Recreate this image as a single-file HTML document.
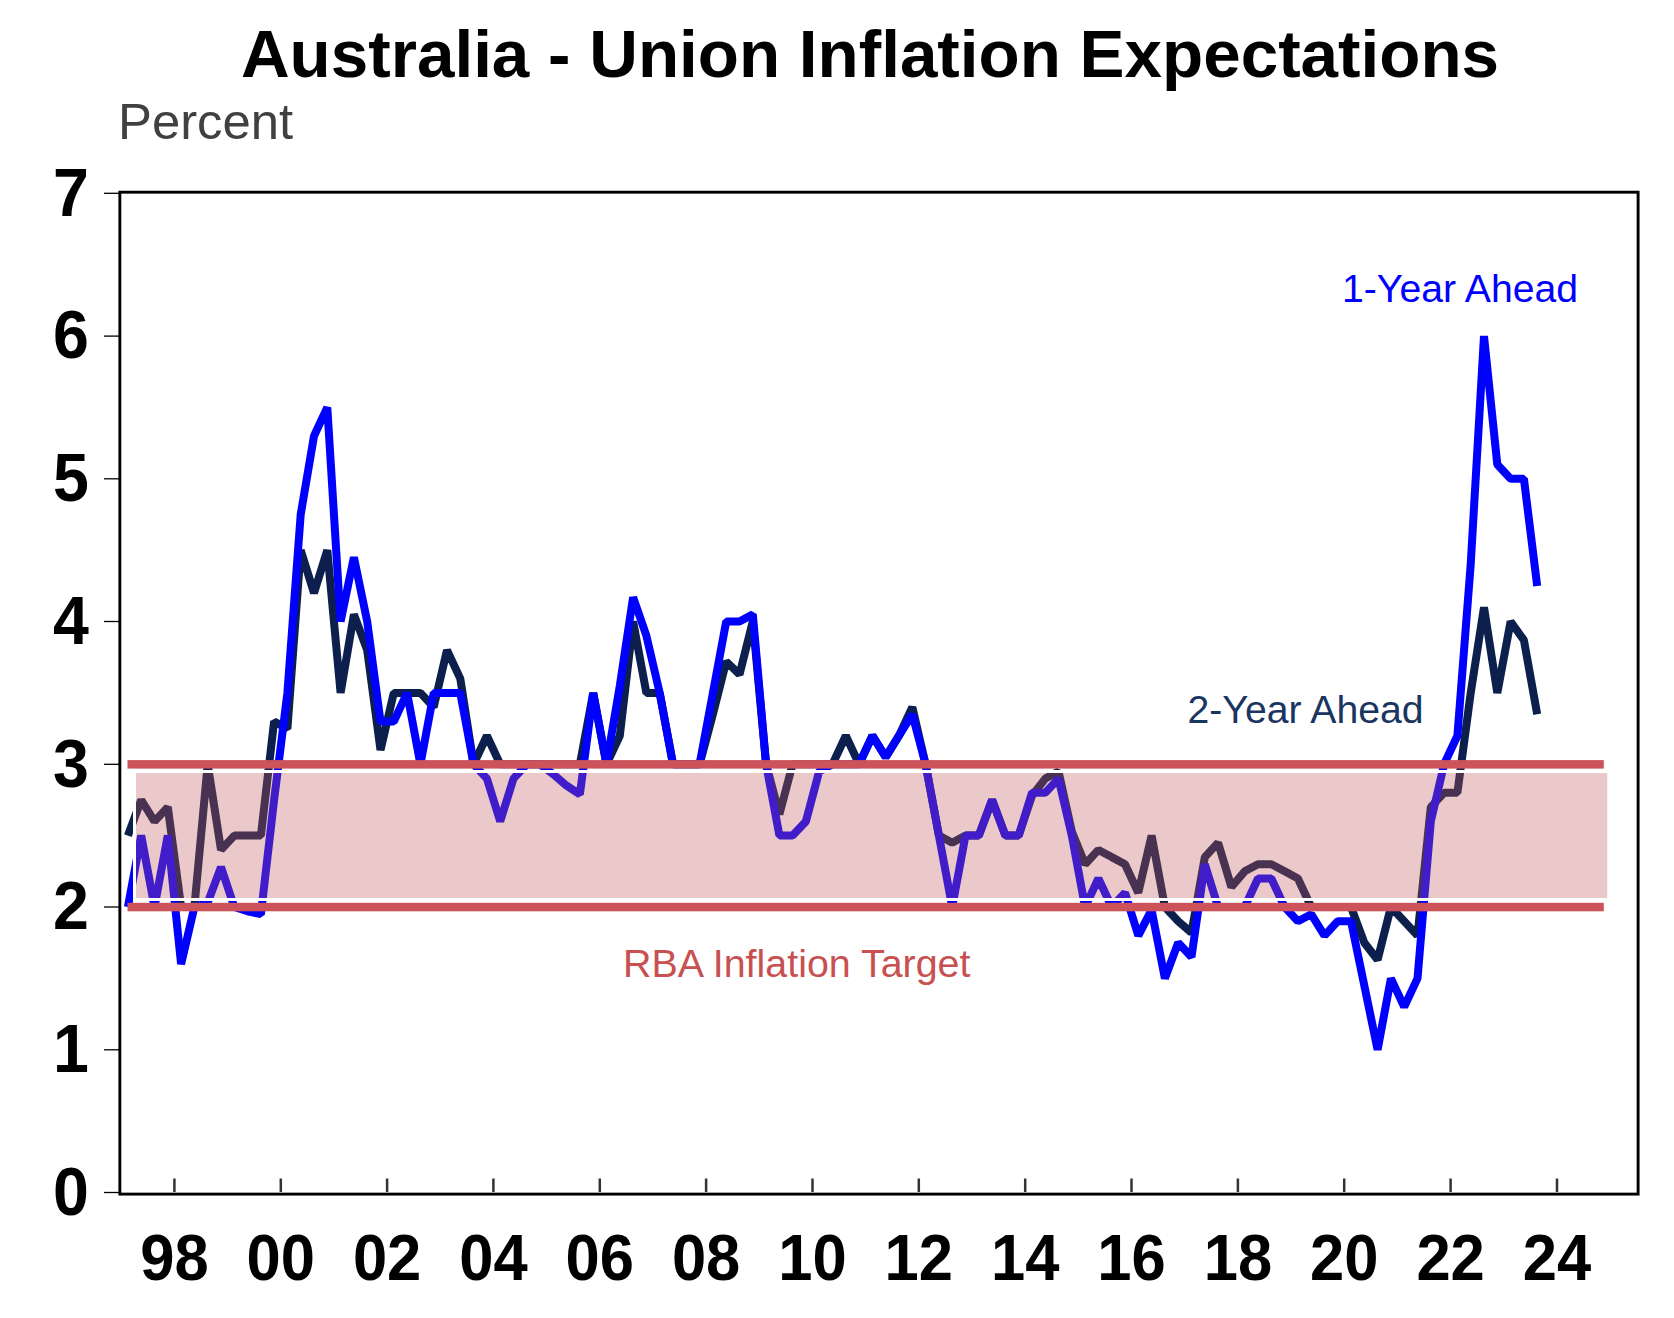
<!DOCTYPE html>
<html><head><meta charset="utf-8"><title>Australia - Union Inflation Expectations</title>
<style>html,body{margin:0;padding:0;background:#fff;}body{width:1674px;height:1318px;overflow:hidden;font-family:"Liberation Sans",sans-serif;}svg{display:block;}</style>
</head><body>
<svg width="1674" height="1318" viewBox="0 0 1674 1318">
<rect x="0" y="0" width="1674" height="1318" fill="#fff"/>
<path d="M127.9 835.6 L141.2 800.0 L154.5 821.4 L167.8 807.1 L181.1 907.0 L194.4 907.0 L207.7 764.3 L221.0 849.9 L234.3 835.6 L247.6 835.6 L260.9 835.6 L274.1 721.5 L287.4 728.6 L300.7 550.2 L314.0 593.0 L327.3 550.2 L340.6 692.9 L353.9 614.4 L367.2 650.1 L380.5 750.0 L393.8 692.9 L407.1 692.9 L420.4 692.9 L433.7 707.2 L447.0 650.1 L460.3 678.6 L473.6 764.3 L486.9 735.7 L500.2 764.3 L513.5 764.3 L526.8 764.3 L540.0 764.3 L553.3 764.3 L566.6 764.3 L579.9 764.3 L593.2 692.9 L606.5 764.3 L619.8 735.7 L633.1 621.5 L646.4 692.9 L659.7 692.9 L673.0 764.3 L686.3 764.3 L699.6 764.3 L712.9 714.3 L726.2 661.5 L739.5 674.4 L752.8 621.5 L766.1 764.3 L779.4 814.2 L792.6 764.3 L805.9 764.3 L819.2 764.3 L832.5 764.3 L845.8 735.7 L859.1 764.3 L872.4 735.7 L885.7 757.1 L899.0 735.7 L912.3 707.2 L925.6 764.3 L938.9 835.6 L952.2 842.8 L965.5 835.6 L978.8 835.6 L992.1 800.0 L1005.4 835.6 L1018.7 835.6 L1032.0 795.7 L1045.3 778.6 L1058.5 771.4 L1071.8 831.4 L1085.1 864.2 L1098.4 849.9 L1111.7 857.1 L1125.0 864.2 L1138.3 892.7 L1151.6 835.6 L1164.9 907.0 L1178.2 921.3 L1191.5 932.7 L1204.8 857.1 L1218.1 842.8 L1231.4 887.0 L1244.7 871.3 L1258.0 864.2 L1271.3 864.2 L1284.6 871.3 L1297.9 878.5 L1311.2 907.0 L1324.5 907.0 L1337.7 907.0 L1351.0 907.0 L1364.3 942.7 L1377.6 959.8 L1390.9 907.0 L1404.2 921.3 L1417.5 935.6 L1430.8 807.1 L1444.1 792.8 L1457.4 792.8 L1470.7 692.9 L1484.0 607.3 L1497.3 692.9 L1510.6 621.5 L1523.9 640.1 L1537.2 714.3" fill="none" stroke="#0c1f4d" stroke-width="8" stroke-linejoin="bevel"/>
<path d="M127.9 907.0 L141.2 835.6 L154.5 907.0 L167.8 835.6 L181.1 964.1 L194.4 907.0 L207.7 902.7 L221.0 867.1 L234.3 907.0 L247.6 911.3 L260.9 914.2 L274.1 800.0 L287.4 692.9 L300.7 514.5 L314.0 436.0 L327.3 407.4 L340.6 621.5 L353.9 557.3 L367.2 621.5 L380.5 721.5 L393.8 721.5 L407.1 692.9 L420.4 764.3 L433.7 692.9 L447.0 692.9 L460.3 692.9 L473.6 764.3 L486.9 778.6 L500.2 821.4 L513.5 778.6 L526.8 764.3 L540.0 764.3 L553.3 774.3 L566.6 785.7 L579.9 794.3 L593.2 692.9 L606.5 764.3 L619.8 685.8 L633.1 597.3 L646.4 635.8 L659.7 692.9 L673.0 764.3 L686.3 764.3 L699.6 764.3 L712.9 692.9 L726.2 621.5 L739.5 621.5 L752.8 614.4 L766.1 764.3 L779.4 835.6 L792.6 835.6 L805.9 821.4 L819.2 771.4 L832.5 764.3 L845.8 764.3 L859.1 764.3 L872.4 735.7 L885.7 757.1 L899.0 735.7 L912.3 714.3 L925.6 764.3 L938.9 835.6 L952.2 907.0 L965.5 835.6 L978.8 835.6 L992.1 800.0 L1005.4 835.6 L1018.7 835.6 L1032.0 792.8 L1045.3 792.8 L1058.5 778.6 L1071.8 835.6 L1085.1 907.0 L1098.4 878.5 L1111.7 907.0 L1125.0 892.7 L1138.3 935.6 L1151.6 909.9 L1164.9 978.4 L1178.2 942.7 L1191.5 957.0 L1204.8 864.2 L1218.1 907.0 L1231.4 907.0 L1244.7 907.0 L1258.0 878.5 L1271.3 878.5 L1284.6 907.0 L1297.9 921.3 L1311.2 914.2 L1324.5 935.6 L1337.7 921.3 L1351.0 921.3 L1364.3 985.5 L1377.6 1049.8 L1390.9 978.4 L1404.2 1006.9 L1417.5 978.4 L1430.8 821.4 L1444.1 764.3 L1457.4 735.7 L1470.7 564.4 L1484.0 336.1 L1497.3 464.5 L1510.6 478.8 L1523.9 478.8 L1537.2 585.9" fill="none" stroke="#0000ff" stroke-width="8" stroke-linejoin="bevel"/>
<rect x="134.5" y="771.5" width="1474.3" height="128" fill="none" stroke="#fff" stroke-width="3"/>
<rect x="136" y="773" width="1471.3" height="125" fill="rgb(194,88,91)" fill-opacity="0.33"/>
<rect x="127.5" y="760.1" width="1476.3" height="8.5" fill="#cc535a"/>
<rect x="127.5" y="902.8" width="1476.3" height="8.5" fill="#cc535a"/>
<rect x="119.85" y="192.2" width="1518.25" height="1001.9" fill="none" stroke="#000" stroke-width="2.9"/>
<line x1="104" y1="1192.5" x2="119" y2="1192.5" stroke="#000" stroke-width="1.3"/>
<line x1="104" y1="1049.8" x2="119" y2="1049.8" stroke="#000" stroke-width="1.3"/>
<line x1="104" y1="907.0" x2="119" y2="907.0" stroke="#000" stroke-width="1.3"/>
<line x1="104" y1="764.3" x2="119" y2="764.3" stroke="#000" stroke-width="1.3"/>
<line x1="104" y1="621.5" x2="119" y2="621.5" stroke="#000" stroke-width="1.3"/>
<line x1="104" y1="478.8" x2="119" y2="478.8" stroke="#000" stroke-width="1.3"/>
<line x1="104" y1="336.1" x2="119" y2="336.1" stroke="#000" stroke-width="1.3"/>
<line x1="104" y1="193.3" x2="119" y2="193.3" stroke="#000" stroke-width="1.3"/>
<line x1="174.4" y1="1178.5" x2="174.4" y2="1192" stroke="#333" stroke-width="2.5"/>
<line x1="280.8" y1="1178.5" x2="280.8" y2="1192" stroke="#333" stroke-width="2.5"/>
<line x1="387.1" y1="1178.5" x2="387.1" y2="1192" stroke="#333" stroke-width="2.5"/>
<line x1="493.4" y1="1178.5" x2="493.4" y2="1192" stroke="#333" stroke-width="2.5"/>
<line x1="599.8" y1="1178.5" x2="599.8" y2="1192" stroke="#333" stroke-width="2.5"/>
<line x1="706.1" y1="1178.5" x2="706.1" y2="1192" stroke="#333" stroke-width="2.5"/>
<line x1="812.5" y1="1178.5" x2="812.5" y2="1192" stroke="#333" stroke-width="2.5"/>
<line x1="918.8" y1="1178.5" x2="918.8" y2="1192" stroke="#333" stroke-width="2.5"/>
<line x1="1025.2" y1="1178.5" x2="1025.2" y2="1192" stroke="#333" stroke-width="2.5"/>
<line x1="1131.5" y1="1178.5" x2="1131.5" y2="1192" stroke="#333" stroke-width="2.5"/>
<line x1="1237.9" y1="1178.5" x2="1237.9" y2="1192" stroke="#333" stroke-width="2.5"/>
<line x1="1344.2" y1="1178.5" x2="1344.2" y2="1192" stroke="#333" stroke-width="2.5"/>
<line x1="1450.6" y1="1178.5" x2="1450.6" y2="1192" stroke="#333" stroke-width="2.5"/>
<line x1="1557.0" y1="1178.5" x2="1557.0" y2="1192" stroke="#333" stroke-width="2.5"/>
<text transform="translate(71 1214.7) scale(1 1.07)" text-anchor="middle" font-family="Liberation Sans" font-weight="bold" font-size="64.5" fill="#000">0</text>
<text transform="translate(71 1072.0) scale(1 1.07)" text-anchor="middle" font-family="Liberation Sans" font-weight="bold" font-size="64.5" fill="#000">1</text>
<text transform="translate(71 929.2) scale(1 1.07)" text-anchor="middle" font-family="Liberation Sans" font-weight="bold" font-size="64.5" fill="#000">2</text>
<text transform="translate(71 786.5) scale(1 1.07)" text-anchor="middle" font-family="Liberation Sans" font-weight="bold" font-size="64.5" fill="#000">3</text>
<text transform="translate(71 643.7) scale(1 1.07)" text-anchor="middle" font-family="Liberation Sans" font-weight="bold" font-size="64.5" fill="#000">4</text>
<text transform="translate(71 501.0) scale(1 1.07)" text-anchor="middle" font-family="Liberation Sans" font-weight="bold" font-size="64.5" fill="#000">5</text>
<text transform="translate(71 358.3) scale(1 1.07)" text-anchor="middle" font-family="Liberation Sans" font-weight="bold" font-size="64.5" fill="#000">6</text>
<text transform="translate(71 215.5) scale(1 1.07)" text-anchor="middle" font-family="Liberation Sans" font-weight="bold" font-size="64.5" fill="#000">7</text>
<text transform="translate(174.4 1280.3) scale(1 1.05)" text-anchor="middle" font-family="Liberation Sans" font-weight="bold" font-size="61.5" fill="#000">98</text>
<text transform="translate(280.8 1280.3) scale(1 1.05)" text-anchor="middle" font-family="Liberation Sans" font-weight="bold" font-size="61.5" fill="#000">00</text>
<text transform="translate(387.1 1280.3) scale(1 1.05)" text-anchor="middle" font-family="Liberation Sans" font-weight="bold" font-size="61.5" fill="#000">02</text>
<text transform="translate(493.4 1280.3) scale(1 1.05)" text-anchor="middle" font-family="Liberation Sans" font-weight="bold" font-size="61.5" fill="#000">04</text>
<text transform="translate(599.8 1280.3) scale(1 1.05)" text-anchor="middle" font-family="Liberation Sans" font-weight="bold" font-size="61.5" fill="#000">06</text>
<text transform="translate(706.1 1280.3) scale(1 1.05)" text-anchor="middle" font-family="Liberation Sans" font-weight="bold" font-size="61.5" fill="#000">08</text>
<text transform="translate(812.5 1280.3) scale(1 1.05)" text-anchor="middle" font-family="Liberation Sans" font-weight="bold" font-size="61.5" fill="#000">10</text>
<text transform="translate(918.8 1280.3) scale(1 1.05)" text-anchor="middle" font-family="Liberation Sans" font-weight="bold" font-size="61.5" fill="#000">12</text>
<text transform="translate(1025.2 1280.3) scale(1 1.05)" text-anchor="middle" font-family="Liberation Sans" font-weight="bold" font-size="61.5" fill="#000">14</text>
<text transform="translate(1131.5 1280.3) scale(1 1.05)" text-anchor="middle" font-family="Liberation Sans" font-weight="bold" font-size="61.5" fill="#000">16</text>
<text transform="translate(1237.9 1280.3) scale(1 1.05)" text-anchor="middle" font-family="Liberation Sans" font-weight="bold" font-size="61.5" fill="#000">18</text>
<text transform="translate(1344.2 1280.3) scale(1 1.05)" text-anchor="middle" font-family="Liberation Sans" font-weight="bold" font-size="61.5" fill="#000">20</text>
<text transform="translate(1450.6 1280.3) scale(1 1.05)" text-anchor="middle" font-family="Liberation Sans" font-weight="bold" font-size="61.5" fill="#000">22</text>
<text transform="translate(1557.0 1280.3) scale(1 1.05)" text-anchor="middle" font-family="Liberation Sans" font-weight="bold" font-size="61.5" fill="#000">24</text>
<text x="870" y="77" text-anchor="middle" font-family="Liberation Sans" font-weight="bold" font-size="67.4" fill="#000">Australia - Union Inflation Expectations</text>
<text x="118" y="139" font-family="Liberation Sans" font-size="50.8" fill="#404040">Percent</text>
<text x="1342" y="301.6" font-family="Liberation Sans" font-size="39.2" fill="#0000ff">1-Year Ahead</text>
<text x="1187.5" y="723.2" font-family="Liberation Sans" font-size="39.2" fill="#1a3560">2-Year Ahead</text>
<text x="623" y="976.5" font-family="Liberation Sans" font-size="39.4" fill="#c85050">RBA Inflation Target</text>
</svg>
</body></html>
